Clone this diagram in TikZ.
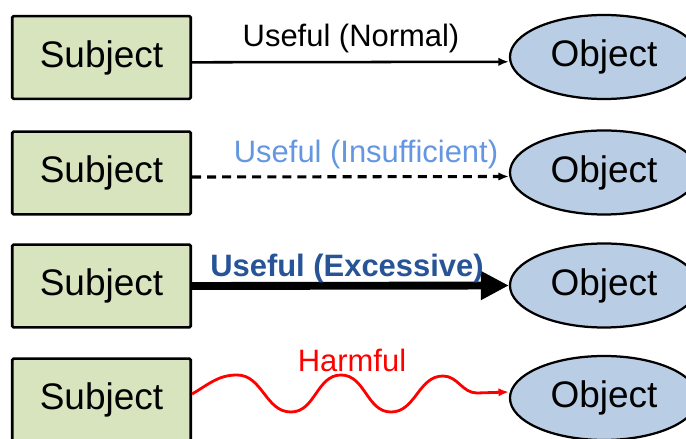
\documentclass[tikz,border=0pt]{standalone}
\usepackage{fontspec}
\setmainfont{Liberation Sans}
\usetikzlibrary{arrows.meta,shapes.geometric}
\definecolor{subjfill}{HTML}{D7E4BD}
\definecolor{objfill}{HTML}{B9CDE5}
\definecolor{insuff}{RGB}{100,150,225}
\definecolor{excess}{RGB}{38,84,150}
\tikzset{
  subj/.style={draw, line width=1.9pt, rounded corners=1pt, fill=subjfill, minimum width=4.46cm, minimum height=2.07cm, font=\fontsize{26.3}{30}\selectfont},
  obj/.style={ellipse, draw, line width=1.6pt, fill=objfill, minimum width=4.7cm, minimum height=2.1cm, font=\fontsize{26.3}{30}\selectfont},
  lbl/.style={anchor=base, inner sep=0pt, font=\fontsize{22}{26}\selectfont},
}

\begin{document}
\begin{tikzpicture}[x=0.025cm, y=-0.025cm]
\useasboundingbox (0,0) rectangle (686,439);
\clip (0,0) rectangle (686,439);
\node[subj] (s1) at (101.5,57.5) {Subject};
\node[subj] (s2) at (101.5,173) {Subject};
\node[subj] (s3) at (101.5,286) {Subject};
\node[subj] (s4) at (101.5,400) {Subject};
\node[obj] (o1) at (604,57) {Object};
\node[obj] (o2) at (604,172.5) {Object};
\node[obj] (o3) at (604,285.5) {Object};
\node[obj] (o4) at (604,398) {Object};
% connectors
\draw[line width=1.8pt, -{Latex[length=2.6mm,width=2.1mm]}] ([yshift=-0.12cm]s1.east) -- ([yshift=-0.12cm]o1.west);
\draw[line width=2.2pt, dash pattern=on 6.4pt off 4.3pt, -{Latex[length=2.6mm,width=2.1mm]}] ([yshift=-0.1cm]s2.east) -- ([yshift=-0.1cm]o2.west);
\draw[line width=5.6pt, -{Triangle[length=0.7cm,width=0.68cm]}] (s3.east) -- (o3.west);
\draw[red, line width=2pt, -{Latex[length=2.6mm,width=2.1mm]}] ([yshift=0.15cm]s4.east) to[out=30,in=180] (237,375)
  to[out=0,in=180] (291,412) to[out=0,in=180] (341,375) to[out=0,in=180] (391,412)
  to[out=0,in=180] (443,376) to[out=0,in=180] (477,393) -- ([yshift=0.15cm]o4.west);
% labels
\node[lbl] (l1) at (351,47) {Useful (Normal)};
\node[lbl, text=insuff] (l2) at (366,163) {Useful (Insufficient)};
\node[lbl, text=excess, font=\fontsize{22}{26}\selectfont\bfseries] (l3) at (347,277) {Useful (Excessive)};
\node[lbl, text=red] (l4) at (352,372) {Harmful};
\end{tikzpicture}
\end{document}
